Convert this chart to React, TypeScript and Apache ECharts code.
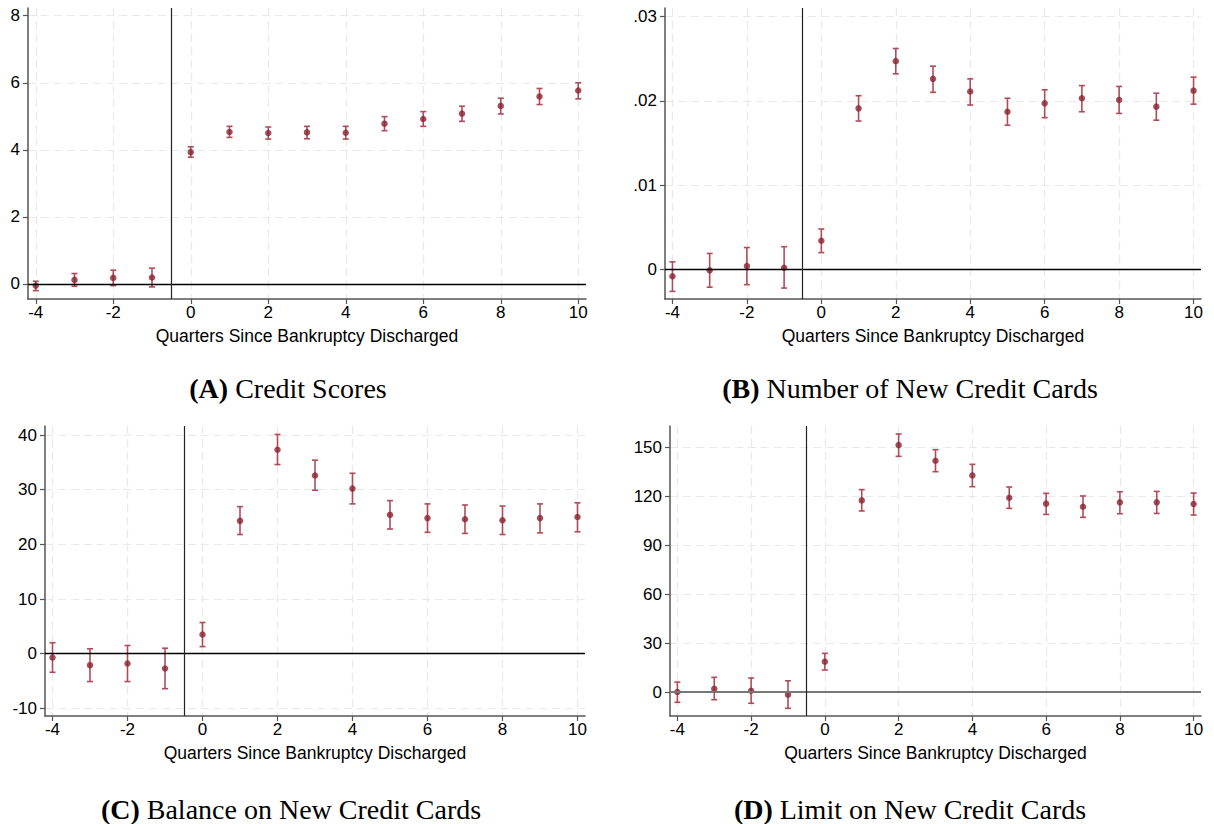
import React, { useEffect, useRef } from "react";
import * as echarts from "echarts";

const quarters = [-4, -3, -2, -1, 0, 1, 2, 3, 4, 5, 6, 7, 8, 9, 10];
const xTicks = [-4, -2, 0, 2, 4, 6, 8, 10];

const aEst = [-0.05, 0.12, 0.18, 0.19, 3.93, 4.53, 4.5, 4.52, 4.51, 4.78, 4.92, 5.08, 5.31, 5.59, 5.77];
const aLo = [-0.2, -0.07, -0.05, -0.09, 3.78, 4.37, 4.32, 4.33, 4.32, 4.57, 4.7, 4.85, 5.07, 5.35, 5.52];
const aHi = [0.08, 0.31, 0.41, 0.47, 4.09, 4.7, 4.68, 4.7, 4.7, 4.99, 5.14, 5.3, 5.54, 5.83, 6.0];
const aTicks = [0, 2, 4, 6, 8];

const bEst = [-0.0008, -0.0001, 0.0004, 0.0002, 0.0034, 0.0191, 0.0247, 0.0226, 0.0211, 0.0187, 0.0197, 0.0203, 0.0201, 0.0193, 0.0212];
const bLo = [-0.0026, -0.0021, -0.0018, -0.0022, 0.002, 0.0176, 0.0232, 0.021, 0.0195, 0.0171, 0.018, 0.0187, 0.0185, 0.0177, 0.0196];
const bHi = [0.0009, 0.0019, 0.0026, 0.0027, 0.0048, 0.0206, 0.0262, 0.0241, 0.0226, 0.0203, 0.0213, 0.0218, 0.0217, 0.0209, 0.0228];
const bTicks = [0, 0.01, 0.02, 0.03];

const cEst = [-0.7, -2.1, -1.8, -2.7, 3.5, 24.3, 37.3, 32.6, 30.2, 25.4, 24.8, 24.6, 24.4, 24.8, 25.0];
const cLo = [-3.4, -5.1, -5.1, -6.4, 1.3, 21.8, 34.6, 29.9, 27.4, 22.8, 22.2, 22.0, 21.8, 22.1, 22.3];
const cHi = [2.0, 0.9, 1.5, 1.0, 5.7, 26.9, 40.1, 35.4, 33.0, 28.0, 27.4, 27.2, 27.0, 27.4, 27.6];
const cTicks = [-10, 0, 10, 20, 30, 40];

const dEst = [0, 2.0, 0.8, -1.6, 18.6, 117.5, 151.4, 141.8, 132.8, 119.1, 115.5, 113.6, 116.3, 116.3, 115.3];
const dLo = [-6.3, -4.7, -6.9, -10.0, 13.5, 111.0, 144.5, 135.1, 125.9, 112.6, 108.9, 107.1, 109.3, 109.5, 108.5];
const dHi = [6.1, 9.0, 8.6, 6.9, 23.7, 124.1, 158.2, 148.6, 139.6, 125.7, 121.8, 120.2, 122.8, 123.0, 122.0];
const dTicks = [0, 30, 60, 90, 120, 150];

const captions = [
  ["(A)", "Credit Scores"],
  ["(B)", "Number of New Credit Cards"],
  ["(C)", "Balance on New Credit Cards"],
  ["(D)", "Limit on New Credit Cards"],
];
const xTitle = "Quarters Since Bankruptcy Discharged";

const panels = [
  { est: aEst, lo: aLo, hi: aHi, ticks: aTicks, min: -0.45, max: 8.23, fmt: (v: number) => String(v), grid: { left: 28, top: 8, width: 558, height: 291 }, cap: [288, 388], zero: { color: "#000", width: 1.3 } },
  { est: bEst, lo: bLo, hi: bHi, ticks: bTicks, min: -0.0035, max: 0.031, fmt: (v: number) => (v === 0 ? "0" : v.toFixed(2).replace(/^0/, "")), grid: { left: 665, top: 8, width: 536, height: 291 }, cap: [910, 388], zero: { color: "#000", width: 1.3 } },
  { est: cEst, lo: cLo, hi: cHi, ticks: cTicks, min: -11.4, max: 41.65, fmt: (v: number) => String(v), grid: { left: 45, top: 426, width: 540, height: 290 }, cap: [291, 809], zero: { color: "#000", width: 1.3 } },
  { est: dEst, lo: dLo, hi: dHi, ticks: dTicks, min: -14.7, max: 163.1, fmt: (v: number) => String(v), grid: { left: 670, top: 426, width: 531, height: 290 }, cap: [910, 809], zero: { color: "#777", width: 2 } },
];

const SANS = "'Liberation Sans', Arial, sans-serif";
const SERIF = "'Liberation Serif', 'Times New Roman', serif";
const DOT = "#8b2331";
const BAR = "#b04c58";

export default function App() {
  const ref = useRef<HTMLDivElement>(null);
  useEffect(() => {
    if (!ref.current) return;
    const chart = echarts.init(ref.current, null, { renderer: "svg" });
    const grids: any[] = [];
    const xAxes: any[] = [];
    const yAxes: any[] = [];
    const series: any[] = [];
    const graphics: any[] = [];
    panels.forEach((p, i) => {
      grids.push({ ...p.grid, containLabel: false });
      xAxes.push({
        type: "value",
        gridIndex: i,
        min: -4.2,
        max: 10.2,
        name: xTitle,
        nameLocation: "middle",
        nameGap: 28,
        nameTextStyle: { fontFamily: SANS, fontSize: 17.5, color: "#000" },
        axisLine: { show: true, onZero: false, lineStyle: { color: "#555", width: 1.5 } },
        axisTick: { show: true, length: 5, customValues: xTicks, lineStyle: { color: "#555", width: 1.2 } },
        axisLabel: { customValues: xTicks, margin: 5, fontFamily: SANS, fontSize: 17, color: "#000" },
        splitLine: { show: true, lineStyle: { color: "#e9e9e9", type: [8, 5], width: 1.2 } },
      });
      yAxes.push({
        type: "value",
        gridIndex: i,
        min: p.min,
        max: p.max,
        axisLine: { show: true, onZero: false, lineStyle: { color: "#555", width: 1.5 } },
        axisTick: { show: true, length: 5, customValues: p.ticks, lineStyle: { color: "#555", width: 1.2 } },
        axisLabel: { customValues: p.ticks, margin: 8, fontFamily: SANS, fontSize: 17, color: "#000", formatter: p.fmt },
        splitLine: { show: true, lineStyle: { color: "#e9e9e9", type: [8, 5], width: 1.2 } },
      });
      series.push({
        type: "custom",
        xAxisIndex: i,
        yAxisIndex: i,
        z: 3,
        encode: { x: 0, y: [1, 2] },
        data: quarters.map((q, k) => [q, p.lo[k], p.hi[k]]),
        renderItem: (params: any, api: any) => {
          const x = api.value(0);
          const top = api.coord([x, api.value(2)]);
          const bot = api.coord([x, api.value(1)]);
          const w = 3;
          const st = { stroke: BAR, lineWidth: 1.6 };
          return {
            type: "group",
            children: [
              { type: "line", shape: { x1: top[0], y1: top[1], x2: bot[0], y2: bot[1] }, style: st },
              { type: "line", shape: { x1: top[0] - w, y1: top[1], x2: top[0] + w, y2: top[1] }, style: st },
              { type: "line", shape: { x1: bot[0] - w, y1: bot[1], x2: bot[0] + w, y2: bot[1] }, style: st },
            ],
          };
        },
      });
      series.push({
        type: "scatter",
        xAxisIndex: i,
        yAxisIndex: i,
        z: 4,
        symbol: "circle",
        symbolSize: 6.5,
        itemStyle: { color: DOT },
        data: quarters.map((q, k) => [q, p.est[k]]),
        markLine: {
          silent: true,
          symbol: "none",
          animation: false,
          label: { show: false },
          data: [
            { yAxis: 0, lineStyle: { color: p.zero.color, width: p.zero.width, type: "solid" } },
            { xAxis: -0.5, lineStyle: { color: "#222", width: 1.2, type: "solid" } },
          ],
        },
      });
      graphics.push({
        type: "text",
        x: p.cap[0],
        y: p.cap[1],
        style: {
          text: `{b|${captions[i][0]}} ${captions[i][1]}`,
          fontFamily: SERIF,
          fontSize: 28,
          fill: "#000",
          align: "center",
          verticalAlign: "middle",
          rich: { b: { fontFamily: SERIF, fontSize: 28, fontWeight: "bold", fill: "#000" } },
        },
      });
    });
    chart.setOption({
      animation: false,
      backgroundColor: "#fff",
      grid: grids,
      xAxis: xAxes,
      yAxis: yAxes,
      series,
      graphic: graphics,
    });
    return () => chart.dispose();
  }, []);
  return <div ref={ref} style={{ position: "fixed", left: 0, top: 0, width: 1214, height: 824 }} />;
}
